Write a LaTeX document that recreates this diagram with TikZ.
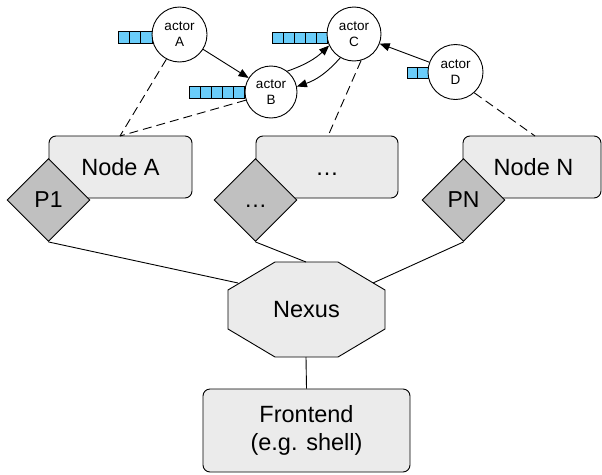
\documentclass[tikz,border=0pt]{standalone}
\usepackage{fontspec}
\setmainfont{Liberation Sans}
\usetikzlibrary{shapes.geometric,arrows.meta}
\definecolor{boxgray}{HTML}{EBEBEB}
\definecolor{diagray}{HTML}{C0C0C0}
\definecolor{qblue}{HTML}{6ACDFA}
\tikzset{
  line/.style={line width=0.9pt},
  dashline/.style={line width=0.9pt, dash pattern=on 9pt off 5pt},
  arr/.style={line width=0.9pt, -{Triangle[length=10pt,width=8pt]}},
  hostbox/.style={draw, line width=0.9pt, fill=boxgray, rounded corners=7pt, minimum height=62pt, inner sep=0pt, font=\fontsize{23.5}{27}\selectfont},
  portbox/.style={draw, line width=0.9pt, fill=diagray, diamond, aspect=1, inner sep=0pt, minimum width=83pt, minimum height=83pt, font=\fontsize{23}{26}\selectfont},
  actorc/.style={draw, line width=0.9pt, fill=white, circle, inner sep=0pt, minimum size=54pt, align=center, font=\fontsize{13.5}{16}\selectfont},
  qcell/.style={draw, line width=0.8pt, fill=qblue}
}
\begin{document}
\begin{tikzpicture}[x=1pt,y=-1pt]
\useasboundingbox (0,0) rectangle (602,474);

% queues
\foreach \i in {0,1,2} {\draw[qcell] ({118+11.33*\i},31) rectangle ({118+11.33*(\i+1)},43);}
\foreach \i in {0,...,4} {\draw[qcell] ({189+11*\i},86) rectangle ({189+11*(\i+1)},98);}
\foreach \i in {0,...,4} {\draw[qcell] ({272+11*\i},32) rectangle ({272+11*(\i+1)},43);}
\foreach \i in {0,1} {\draw[qcell] ({407+10.5*\i},67) rectangle ({407+10.5*(\i+1)},78);}

% actors
\node[actorc, minimum size=55pt] (A) at (179.5,34.5) {actor\\A};
\node[actorc, minimum size=52pt] (B) at (271,92) {actor\\B};
\node[actorc] (C) at (354,34) {actor\\C};
\node[actorc, minimum size=55pt] (D) at (455.5,72) {actor\\D};

% hosts
\node[hostbox, minimum width=143pt] (NA) at (120.5,167) {Node A};
\node[hostbox, minimum width=142pt] (NM) at (327,167) {\vphantom{Nd}…};
\node[hostbox, minimum width=138pt] (NN) at (532,167) {\hspace*{3pt}Node N};

\node[portbox] (P1) at (48.5,200) {P1};
\node[portbox] (PM) at (255.5,200) {\vphantom{P1}…};
\node[portbox] (PN) at (463.5,200) {PN};

% nexus
\draw[line, fill=boxgray] (275,262) -- (338,262) -- (385,290) -- (385,329) -- (338,357) -- (275,357) -- (228,329) -- (228,290) -- cycle;
\node[font=\fontsize{23.5}{27}\selectfont] (NX) at (306.5,309.5) {Nexus};
\coordinate (nxw) at (238,283);
\coordinate (nxn) at (306,262);
\coordinate (nxe) at (373,283);
\coordinate (nxs) at (306,357);

% frontend
\node[hostbox, minimum width=207pt, minimum height=83pt, align=center, font=\fontsize{23.5}{28}\selectfont] (FE) at (306.5,430.5) {Frontend\\(e.g. shell)};

% connectors
\draw[line] (P1.south) -- (nxw);
\draw[line] (PM.south) -- (nxn);
\draw[line] (PN.south) -- (nxe);
\draw[line] (nxs) -- (FE.north);

\coordinate (naTop) at (120,136);
\coordinate (nmTop) at (328,136);
\coordinate (nnTop) at (535,136);
\draw[dashline] (A.242) -- (naTop);
\draw[dashline] (B.198) -- (naTop);
\draw[dashline] (C.-75) -- (nmTop);
\draw[dashline] (D.-48) -- (nnTop);

\draw[arr] (A) -- (B);
\draw[arr] (D) -- (C);
\draw[arr] (B.52) to[bend right=12] (C.205);
\draw[arr] (C.240) to[bend left=15] (B.12);
\end{tikzpicture}
\end{document}
